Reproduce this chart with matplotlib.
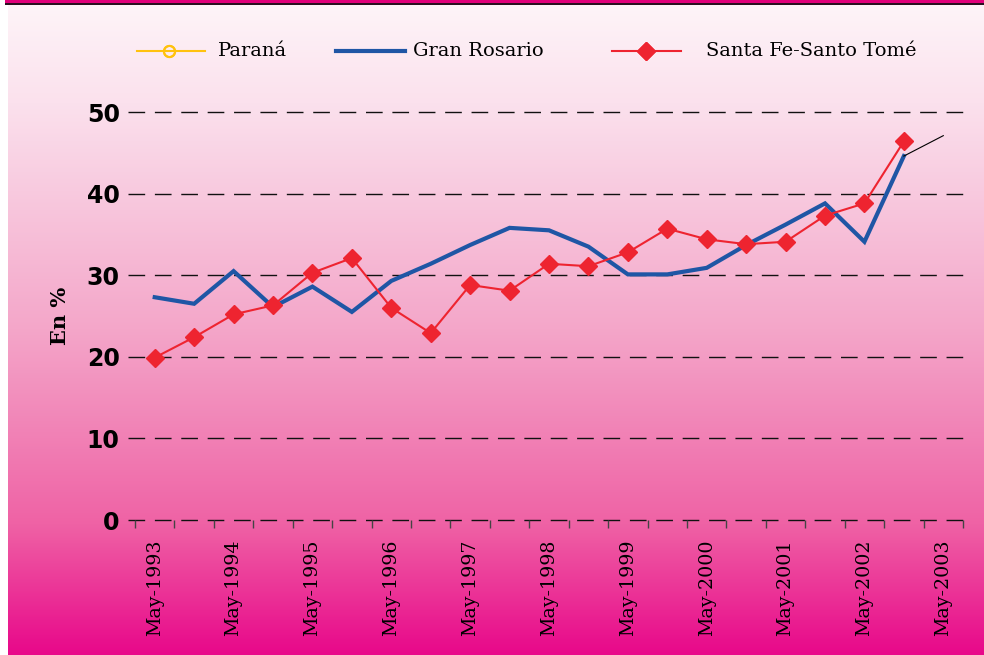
import numpy as np
import matplotlib
matplotlib.use("Agg")
import matplotlib.pyplot as plt
from matplotlib.lines import Line2D
from matplotlib.patches import Rectangle
from matplotlib.colors import LinearSegmentedColormap

# ---- data ----
periods = ["May-1993", "Nov-1993", "May-1994", "Nov-1994", "May-1995", "Nov-1995",
           "May-1996", "Nov-1996", "May-1997", "Nov-1997", "May-1998", "Nov-1998",
           "May-1999", "Nov-1999", "May-2000", "Nov-2000", "May-2001", "Nov-2001",
           "May-2002", "Nov-2002", "May-2003"]
gran_rosario = [27.3, 26.5, 30.5, 26.1, 28.6, 25.5, 29.3, 31.4, 33.7, 35.8, 35.5,
                33.5, 30.1, 30.1, 30.9, 33.7, 36.2, 38.8, 34.1, 44.6]
santa_fe = [19.9, 22.4, 25.2, 26.3, 30.3, 32.1, 26.0, 22.9, 28.8, 28.1, 31.4, 31.1,
            32.8, 35.7, 34.4, 33.8, 34.1, 37.3, 38.8, 46.4]
trend_idx = [19, 20]
trend_vals = [44.6, 47.1]
yticks = [0, 10, 20, 30, 40, 50]

W, H = 984, 655
fig = plt.figure(figsize=(W / 100, H / 100), dpi=100)
fig.patch.set_facecolor("white")

# gradient background
bg = fig.add_axes([8 / W, 0, 1 - 8 / W, (H - 4) / H], zorder=0)
cmap = LinearSegmentedColormap.from_list(
    "g", [(0.0, "#fef4f8"), (0.15, "#fbe1ed"), (0.5, "#f4a6c9"), (0.8, "#ef62a5"), (1.0, "#e8088a")])
grad = np.linspace(0, 1, 256).reshape(-1, 1)
bg.imshow(grad, aspect="auto", cmap=cmap, extent=[0, 1, 0, 1], origin="upper")
bg.set_axis_off()

# top band
fig.add_artist(Rectangle((5 / W, (H - 3) / H), 1, 3 / H, transform=fig.transFigure,
                         facecolor="#e0007a", edgecolor="none", zorder=5))
fig.add_artist(Rectangle((5 / W, (H - 5) / H), 1, 2 / H, transform=fig.transFigure,
                         facecolor="#2a1020", edgecolor="none", zorder=5))

# main axes
x0, x1 = 135, 963
y0, y1 = 520, 112
ax = fig.add_axes([x0 / W, 1 - y0 / H, (x1 - x0) / W, (y0 - y1) / H], zorder=2)
ax.patch.set_alpha(0)
n = len(periods)
x = np.arange(n)
ax.set_xlim(-0.5, n - 0.5)
ax.set_ylim(0, 50)
for s in ax.spines.values():
    s.set_visible(False)

gl_start = (128 - x0) / (x1 - x0)
for yv in yticks:
    ax.plot([gl_start, 1], [yv, yv], transform=ax.get_yaxis_transform(),
            color="#111111", lw=1.0, dashes=(12, 7), zorder=1, clip_on=False)

ax.set_yticks(yticks)
ax.set_yticklabels([str(v) for v in yticks], fontsize=17, fontweight="bold",
                   family="DejaVu Sans")
ax.tick_params(axis="y", length=0, pad=11)

ax.set_xticks(x[::2])
ax.set_xticklabels(periods[::2], rotation=90, family="DejaVu Serif", fontsize=13.7,
                   va="top", ha="center")
ax.tick_params(axis="x", which="major", length=0, pad=14)
ax.set_xticks(np.arange(n + 1) - 0.5, minor=True)
ax.tick_params(axis="x", which="minor", length=6, width=1, color="#444444", direction="out")

ax.set_ylabel("En %", family="DejaVu Serif", fontweight="bold", fontsize=15, labelpad=12)

gx = x[:len(gran_rosario)]
ax.plot(gx, gran_rosario, color="#1f56a5", lw=3.0, zorder=3, solid_joinstyle="miter")
ax.plot(trend_idx, trend_vals, color="black", lw=0.8, zorder=3)
ax.plot(x[:len(santa_fe)], santa_fe, color="#ee2430", lw=1.5, marker="D",
        markersize=9, markerfacecolor="#ee2430", markeredgecolor="#ee2430", zorder=4)

# legend (manual)
ly = 1 - 51 / H
def leg_line(xa, xb, **kw):
    fig.add_artist(Line2D([xa / W, xb / W], [ly, ly], transform=fig.transFigure, **kw))

leg_line(137, 205, color="#ffc20e", lw=1.5)
leg_line(169, 169, color="#ffc20e", marker="o", markersize=8, markerfacecolor="none",
         markeredgewidth=1.5, lw=0)
fig.text(218 / W, ly, "Paraná", family="DejaVu Serif", fontsize=14, va="center")
leg_line(336, 405, color="#1f56a5", lw=3.0)
fig.text(413 / W, ly, "Gran Rosario", family="DejaVu Serif", fontsize=14, va="center")
leg_line(612, 681, color="#ee2430", lw=1.5)
leg_line(646, 646, color="#ee2430", marker="D", markersize=9, lw=0)
fig.text(706 / W, ly, "Santa Fe-Santo Tomé", family="DejaVu Serif", fontsize=14,
         va="center")

fig.savefig("out.png", dpi=100)
